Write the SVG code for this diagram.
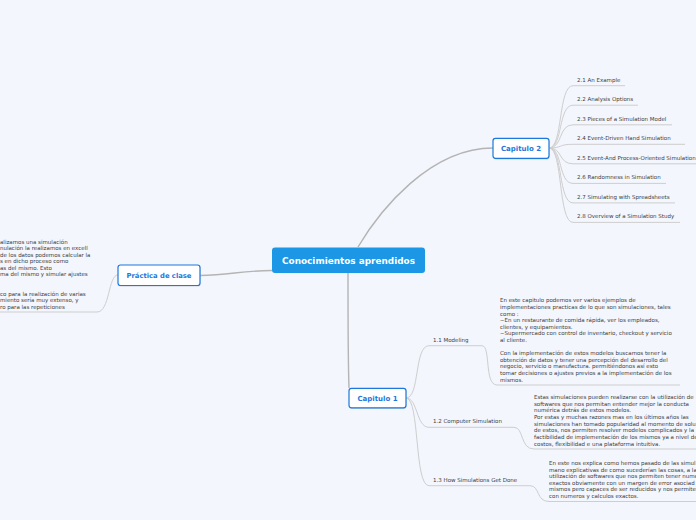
<svg xmlns="http://www.w3.org/2000/svg" width="696" height="520" viewBox="0 0 696 520">
<style>
.main{fill:none;stroke:#b4b4b4;stroke-width:1.4}
.sub{fill:none;stroke:#cecece;stroke-width:1}
.t{font-family:'DejaVu Sans',Verdana,sans-serif;font-size:5.5px;fill:#3c3c3c}
.p{font-family:'DejaVu Sans',Verdana,sans-serif;font-size:5.5px;fill:#3c3c3c}
.box{fill:#ffffff;stroke:#1b78dc;stroke-width:1.2}
.sh{fill:#c6d0e0}
.nt{font-family:'DejaVu Sans',Verdana,sans-serif;font-weight:bold;fill:#1b78dc;text-anchor:middle}
</style>
<rect width="696" height="520" fill="#f3f6fd"/>
<g id="connectors">
<path class="main" d="M358,247 C380,210 430,148 493,148"/>
<path class="main" d="M272,270.5 C240,271 230,275 200,275.5"/>
<path class="main" d="M348,273 C348,320 348,360 349,388"/>
<path class="sub" d="M549,148 C563,148 558,85.7 573,85.7 H625"/>
<path class="sub" d="M549,148 C563,148 558,105.2 573,105.2 H638"/>
<path class="sub" d="M549,148 C563,148 558,124.8 573,124.8 H672"/>
<path class="sub" d="M549,148 C563,148 558,144.3 573,144.3 H685"/>
<path class="sub" d="M549,148 C563,148 558,163.8 573,163.8 H700"/>
<path class="sub" d="M549,148 C563,148 558,183.4 573,183.4 H666"/>
<path class="sub" d="M549,148 C563,148 558,202.9 573,202.9 H675"/>
<path class="sub" d="M549,148 C563,148 558,222.4 573,222.4 H680"/>
<path class="sub" d="M118,275 C108,275 110,312 97,312 H-2"/>
<path class="sub" d="M406,398 C420,398 414,345.7 429,345.7 H482 C491,345.7 484,385 497,385 H680"/>
<path class="sub" d="M406,398 C418,398 416,427.3 429,427.3 H514 C524,427.3 520,449 534,449 H700"/>
<path class="sub" d="M406,398 C420,398 414,485.7 429,485.7 H530 C540,485.7 536,501.5 549,501.5 H700"/>
</g>
<g id="central">
<rect x="272" y="247.5" width="153" height="25.5" rx="3" fill="#1b97e6"/>
<text x="348.5" y="263.7" class="nt" style="fill:#ffffff;font-size:8.9px">Conocimientos aprendidos</text>
</g>
<g id="capitulo2">
<rect class="sh" x="493.5" y="139.5" width="56" height="20" rx="2.5"/>
<rect class="box" x="493" y="138.3" width="56" height="20" rx="2.5"/>
<text x="521" y="150.8" class="nt" style="font-size:7px">Capitulo 2</text>
</g>
<g id="practica">
<rect class="sh" x="118.5" y="266" width="82" height="20.5" rx="2.5"/>
<rect class="box" x="118" y="265" width="82" height="20.5" rx="2.5"/>
<text x="159" y="277.6" class="nt" style="font-size:6.8px">Práctica de clase</text>
</g>
<g id="capitulo1">
<rect class="sh" x="349.5" y="389.3" width="57" height="19.5" rx="2.5"/>
<rect class="box" x="349" y="388.3" width="57" height="19.5" rx="2.5"/>
<text x="377.5" y="400.7" class="nt" style="font-size:7px">Capitulo 1</text>
</g>
<g id="items2">
<text class="t" x="577" y="81.7">2.1 An Example</text>
<text class="t" x="577" y="101.2">2.2 Analysis Options</text>
<text class="t" x="577" y="120.8">2.3 Pieces of a Simulation Model</text>
<text class="t" x="577" y="140.3">2.4 Event-Driven Hand Simulation</text>
<text class="t" x="577" y="159.8">2.5 Event-And Process-Oriented Simulation</text>
<text class="t" x="577" y="179.4">2.6 Randomness in Simulation</text>
<text class="t" x="577" y="198.9">2.7 Simulating with Spreadsheets</text>
<text class="t" x="577" y="218.4">2.8 Overview of a Simulation Study</text>
</g>
<g id="items1">
<text class="t" x="433" y="342">1.1 Modeling</text>
<text class="t" x="433" y="423.3">1.2 Computer Simulation</text>
<text class="t" x="433" y="481.7">1.3 How Simulations Get Done</text>
</g>
<g id="note-practica">
<text class="p" x="0" y="243.5">alizamos una simulación</text>
<text class="p" x="0" y="250">nulación la realizamos en excell</text>
<text class="p" x="0" y="256.5">de los datos podemos calcular la</text>
<text class="p" x="0" y="263">s en dicho proceso como</text>
<text class="p" x="0" y="269.5">as del mismo. Esto</text>
<text class="p" x="0" y="276">ma del mismo y simular ajustes</text>
<text class="p" x="0" y="295.5">co para la realización de varias</text>
<text class="p" x="0" y="302">miento sería muy extenso, y</text>
<text class="p" x="0" y="308.5">ro para las repeticiones</text>
</g>
<g id="note-1-1">
<text class="p" x="500" y="302.3">En este capitulo podemos ver varios ejemplos de</text>
<text class="p" x="500" y="308.9">implementaciones practicas de lo que son simulaciones, tales</text>
<text class="p" x="500" y="315.5">como :</text>
<text class="p" x="500" y="322.1">~En un restaurante de comida rápida, ver los empleados,</text>
<text class="p" x="500" y="328.7">clientes, y equipamientos.</text>
<text class="p" x="500" y="335.3">~Supermercado con control de inventario, checkout y servicio</text>
<text class="p" x="500" y="341.9">al cliente.</text>
<text class="p" x="500" y="355.1">Con la implementación de estos modelos buscamos tener la</text>
<text class="p" x="500" y="361.7">obtención de datos y tener una percepción del desarrollo del</text>
<text class="p" x="500" y="368.3">negocio, servicio o manufactura. permitiéndonos así esto</text>
<text class="p" x="500" y="374.9">tomar decisiones o ajustes previos a la implementación de los</text>
<text class="p" x="500" y="381.5">mismos.</text>
</g>
<g id="note-1-2">
<text class="p" x="534" y="399">Estas simulaciones pueden realizarse con la utilización de</text>
<text class="p" x="534" y="405.65">softwares que nos permitan entender mejor la conducta</text>
<text class="p" x="534" y="412.3">numérica detrás de estos modelos.</text>
<text class="p" x="534" y="418.95">Por estas y muchas razones mas en los últimos años las</text>
<text class="p" x="534" y="425.6">simulaciones han tomado popularidad al momento de solu</text>
<text class="p" x="534" y="432.25">de estos, nos permiten resolver modelos complicados y la</text>
<text class="p" x="534" y="438.9">factibilidad de implementación de los mismos ya a nivel de</text>
<text class="p" x="534" y="445.55">costos, flexibilidad e una plataforma intuitiva.</text>
</g>
<g id="note-1-3">
<text class="p" x="549" y="465">En este nos explica como hemos pasado de las simul</text>
<text class="p" x="549" y="471.5">mano explicativas de como sucederían las cosas, a la</text>
<text class="p" x="549" y="478">utilización de softwares que nos permiten tener nume</text>
<text class="p" x="549" y="484.5">exactos obviamente con un margen de error asociad</text>
<text class="p" x="549" y="491">mismos pero capaces de ser reducidos y nos permite</text>
<text class="p" x="549" y="497.5">con numeros y calculos  exactos.</text>
</g>
</svg>
